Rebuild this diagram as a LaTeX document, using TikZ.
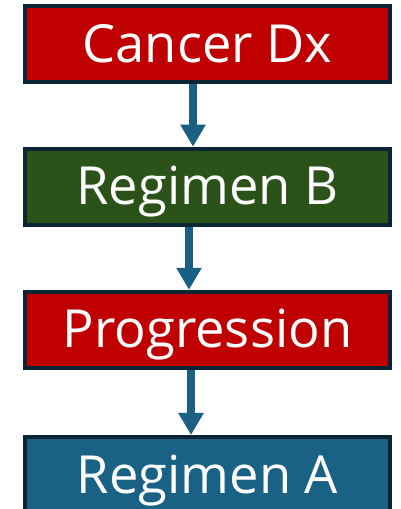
\documentclass[tikz,border=0pt]{standalone}
\usepackage{fontspec}
\setmainfont{Open Sans}
\usetikzlibrary{arrows.meta}
\definecolor{edgenavy}{HTML}{0B2535}
\definecolor{boxred}{HTML}{C00000}
\definecolor{boxgreen}{HTML}{2B5219}
\definecolor{boxblue}{HTML}{196185}
\definecolor{arrowblue}{HTML}{1A5F84}
\tikzset{
  stagebox/.style={draw=edgenavy, line width=4pt, minimum width=365pt,
    minimum height=76pt, inner sep=0pt},
  stagelabel/.style={text=white, anchor=base, inner sep=0pt,
    font=\fontsize{52.5}{52.5}\selectfont},
  flow/.style={draw=arrowblue, line width=8pt,
    -{Triangle[width=24pt,length=22pt]}}
}
\begin{document}
\begin{tikzpicture}[x=1pt,y=1pt]
  \useasboundingbox (0,0) rectangle (400,509);
  % four stage boxes, top to bottom
  \node[stagebox, fill=boxred]   (dx)   at (207.5,464.5) {};
  \node[stagebox, fill=boxgreen] (regb) at (207.5,322.3) {};
  \node[stagebox, fill=boxred]   (prog) at (207.5,179.2) {};
  \node[stagebox, fill=boxblue]  (rega) at (207.5,34)    {};
  % labels set on a common baseline offset
  \node[stagelabel] (tdx)   at ([yshift=-18pt]dx.center)   {Cancer Dx};
  \node[stagelabel] (tregb) at ([yshift=-18pt]regb.center) {Regimen B};
  \node[stagelabel] (tprog) at ([yshift=-18pt]prog.center) {Progression};
  \node[stagelabel] (trega) at ([yshift=-18pt]rega.center) {Regimen A};
  % connectors
  \draw[flow] ([xshift=-14.5pt]dx.south)   -- ([xshift=-14.5pt]regb.north);
  \draw[flow] ([xshift=-18.5pt]regb.south) -- ([xshift=-18.5pt]prog.north);
  \draw[flow] ([xshift=-16.5pt]prog.south) -- ([xshift=-16.5pt]rega.north);
\end{tikzpicture}
\end{document}
